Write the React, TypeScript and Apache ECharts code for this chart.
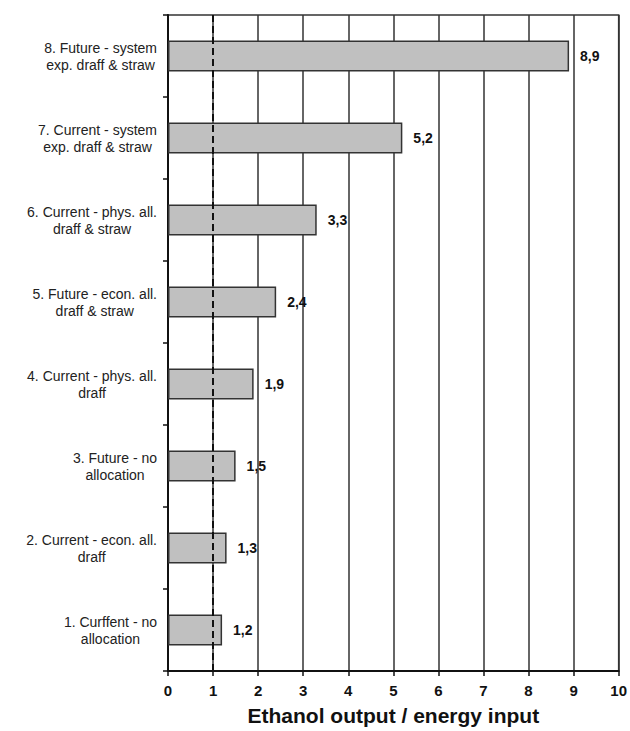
import React, { useEffect, useRef } from "react";
import * as echarts from "echarts";

const categoryLines: string[][] = [
  ["1. Curffent - no", "allocation"],
  ["2. Current - econ. all.", "draff"],
  ["3. Future - no", "allocation"],
  ["4. Current - phys. all.", "draff"],
  ["5. Future - econ. all.", "draff & straw"],
  ["6. Current - phys. all.", "draff & straw"],
  ["7. Current - system", "exp. draff & straw"],
  ["8. Future - system", "exp. draff & straw"],
];
const categories: string[] = categoryLines.map((l) => l.join("\n"));
const values: number[] = [1.2, 1.3, 1.5, 1.9, 2.4, 3.3, 5.2, 8.9];
const xTicks: number[] = [0, 1, 2, 3, 4, 5, 6, 7, 8, 9, 10];
const referenceValue = 1;
const xTitle = "Ethanol output / energy input";

const FONT = "'Liberation Sans', Arial, sans-serif";

export default function App() {
  const ref = useRef<HTMLDivElement>(null);
  useEffect(() => {
    if (!ref.current) return;
    const chart = echarts.init(ref.current, undefined, { renderer: "svg" });
    chart.setOption({
      animation: false,
      backgroundColor: "#ffffff",
      grid: {
        left: 168,
        right: 10,
        top: 15,
        bottom: 56,
        show: true,
        borderColor: "#333",
        borderWidth: 1.5,
        containLabel: false,
      },
      xAxis: {
        type: "value",
        min: xTicks[0],
        max: xTicks[xTicks.length - 1],
        interval: 1,
        name: xTitle,
        nameLocation: "middle",
        nameGap: 34,
        nameTextStyle: {
          fontFamily: FONT,
          fontSize: 21,
          fontWeight: "bold",
          color: "#111",
          verticalAlign: "top",
        },
        axisLine: { show: true, lineStyle: { color: "#111", width: 2 } },
        axisTick: { show: true, length: 5, lineStyle: { color: "#111", width: 1.5 } },
        axisLabel: {
          margin: 12,
          fontFamily: FONT,
          fontSize: 15,
          fontWeight: "bold",
          color: "#111",
        },
        splitLine: { show: true, lineStyle: { color: "#333", width: 1.5 } },
      },
      yAxis: {
        type: "category",
        data: categories,
        axisLine: { show: true, lineStyle: { color: "#111", width: 2 } },
        axisTick: { show: true, length: 5, lineStyle: { color: "#111", width: 1.5 } },
        axisLabel: {
          margin: 11,
          align: "right",
          formatter: (v: string) =>
            v
              .split("\n")
              .map((s) => "{c|" + s + "}")
              .join("\n"),
          rich: {
            c: {
              align: "center",
              fontFamily: FONT,
              fontSize: 14,
              color: "#222",
              lineHeight: 17,
            },
          },
        },
        splitLine: { show: false },
      },
      series: [
        {
          type: "bar",
          data: values,
          barWidth: 31,
          itemStyle: { color: "#c0c0c0", borderColor: "#333", borderWidth: 1.5 },
          label: {
            show: true,
            position: "right",
            distance: 11,
            formatter: (p: any) => String(p.value).replace(".", ","),
            fontFamily: FONT,
            fontSize: 14,
            fontWeight: "bold",
            color: "#111",
          },
          markLine: {
            silent: true,
            symbol: "none",
            label: { show: false },
            lineStyle: { color: "#111", type: [7, 4], width: 2 },
            data: [{ xAxis: referenceValue }],
          },
          z: 3,
        },
      ],
    });
    return () => chart.dispose();
  }, []);
  return (
    <div
      ref={ref}
      style={{ position: "fixed", left: 0, top: 0, width: 630, height: 731 }}
    />
  );
}
